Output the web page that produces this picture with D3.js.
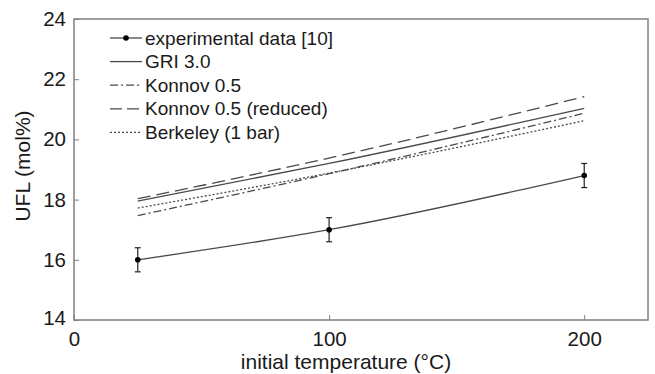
<!DOCTYPE html>
<html>
<head>
<meta charset="utf-8">
<script src="https://cdn.jsdelivr.net/npm/d3@7"></script>
<style>
  body { margin: 0; background: #fff; }
  svg text { font-family: "Liberation Sans", Arial, sans-serif; fill: #1a1a1a; }
</style>
</head>
<body>
<div id="chart"></div>
<script>
// experimental points with error bars
const expTemps = [25, 100, 200];
const expUfl = [16.0, 17.0, 18.8];
const expErr = [0.4, 0.4, 0.4];

// model predictions
const modelTemps = [25, 100, 200];
const griUfl = [17.95, 19.2, 21.03];
const konnovUfl = [17.47, 18.86, 20.87];
const konnovRedUfl = [18.03, 19.38, 21.42];
const berkeleyUfl = [17.72, 18.88, 20.62];

const xTicks = [0, 100, 200];
const yTicks = [14, 16, 18, 20, 22, 24];

const legendLabels = ["experimental data [10]", "GRI 3.0", "Konnov 0.5", "Konnov 0.5 (reduced)", "Berkeley (1 bar)"];

const width = 655, height = 374;
const margin = {top: 19, right: 7, bottom: 54, left: 74};
const lineColor = "#4a4a4a";

let svg = d3.select("#chart")
    .append("svg")
    .attr("width", width)
    .attr("height", height);

let x = d3.scaleLinear()
    .domain([0, 225])
    .range([margin.left, width - margin.right]);

let y = d3.scaleLinear()
    .domain([14, 24])
    .range([height - margin.bottom, margin.top]);

// frame
svg.append("rect")
    .attr("x", x(0))
    .attr("y", y(24))
    .attr("width", x(225) - x(0))
    .attr("height", y(14) - y(24))
    .attr("fill", "none")
    .attr("stroke", "#808080")
    .attr("stroke-width", 1.5);

// x axis, ticks pointing inward
let xAxis = svg.append("g")
    .attr("transform", "translate(0," + y(14) + ")")
    .call(d3.axisBottom(x).tickValues(xTicks).tickSizeInner(-5).tickSizeOuter(0).tickPadding(11));
xAxis.select(".domain").remove();
xAxis.selectAll("line").attr("stroke", "#808080");
xAxis.selectAll("text")
    .attr("font-size", 20.5)
    .attr("font-family", null)
    .attr("fill", null);

// y axis
let yAxis = svg.append("g")
    .attr("transform", "translate(" + x(0) + ",0)")
    .call(d3.axisLeft(y).tickValues(yTicks).tickSizeInner(-5).tickSizeOuter(0).tickPadding(8));
yAxis.select(".domain").remove();
yAxis.selectAll("line").attr("stroke", "#808080");
yAxis.selectAll("text")
    .attr("font-size", 20.5)
    .attr("font-family", null)
    .attr("fill", null);
// MATLAB-like nudge of the bottom-left label
yAxis.selectAll("text").filter(d => d === 14).attr("dy", "0.2em");

// axis titles
svg.append("text")
    .attr("x", 346)
    .attr("y", 369)
    .attr("text-anchor", "middle")
    .attr("font-size", 21)
    .text("initial temperature (\u00B0C)");

svg.append("text")
    .attr("transform", "translate(30," + 166 + ") rotate(-90)")
    .attr("text-anchor", "middle")
    .attr("font-size", 21)
    .text("UFL (mol%)");

// model lines
const models = [
    {values: griUfl, dash: null},
    {values: konnovUfl, dash: "8,3,2,3"},
    {values: konnovRedUfl, dash: "13,6"},
    {values: berkeleyUfl, dash: "2,2"}
];

let modelLine = d3.line()
    .x(function (d, i) { return x(modelTemps[i]); })
    .y(function (d) { return y(d); })
    .curve(d3.curveMonotoneX);

models.forEach(function (m) {
    svg.append("path")
        .datum(m.values)
        .attr("fill", "none")
        .attr("stroke", lineColor)
        .attr("stroke-width", 1.3)
        .attr("stroke-dasharray", m.dash)
        .attr("d", modelLine);
});

// experimental series
let expLine = d3.line()
    .x(function (d, i) { return x(expTemps[i]); })
    .y(function (d) { return y(d); })
    .curve(d3.curveMonotoneX);

svg.append("path")
    .datum(expUfl)
    .attr("fill", "none")
    .attr("stroke", lineColor)
    .attr("stroke-width", 1.3)
    .attr("d", expLine);

let bars = svg.append("g").attr("stroke", "#222").attr("stroke-width", 1.2);
expUfl.forEach(function (v, i) {
    let cx = x(expTemps[i]);
    bars.append("line")
        .attr("x1", cx).attr("x2", cx)
        .attr("y1", y(v - expErr[i])).attr("y2", y(v + expErr[i]));
    [v - expErr[i], v + expErr[i]].forEach(function (e) {
        bars.append("line")
            .attr("x1", cx - 3).attr("x2", cx + 3)
            .attr("y1", y(e)).attr("y2", y(e));
    });
});

svg.append("g")
    .selectAll("circle")
    .data(expUfl)
    .enter()
    .append("circle")
    .attr("cx", function (d, i) { return x(expTemps[i]); })
    .attr("cy", function (d) { return y(d); })
    .attr("r", 2.8)
    .attr("fill", "#000");

// legend
const legendDash = [null, null, "8,3,2,3", "12,5", "2,2"];
let legend = svg.append("g");
legendLabels.forEach(function (label, i) {
    let ly = 38 + i * 23.6;
    legend.append("line")
        .attr("x1", 110).attr("x2", 142)
        .attr("y1", ly).attr("y2", ly)
        .attr("stroke", lineColor)
        .attr("stroke-width", 1.3)
        .attr("stroke-dasharray", legendDash[i]);
    if (i === 0) {
        legend.append("circle")
            .attr("cx", 126).attr("cy", ly)
            .attr("r", 2.8)
            .attr("fill", "#000");
    }
    legend.append("text")
        .attr("x", 145)
        .attr("y", ly)
        .attr("dy", "0.35em")
        .attr("font-size", 19)
        .text(label);
});
</script>
</body>
</html>
